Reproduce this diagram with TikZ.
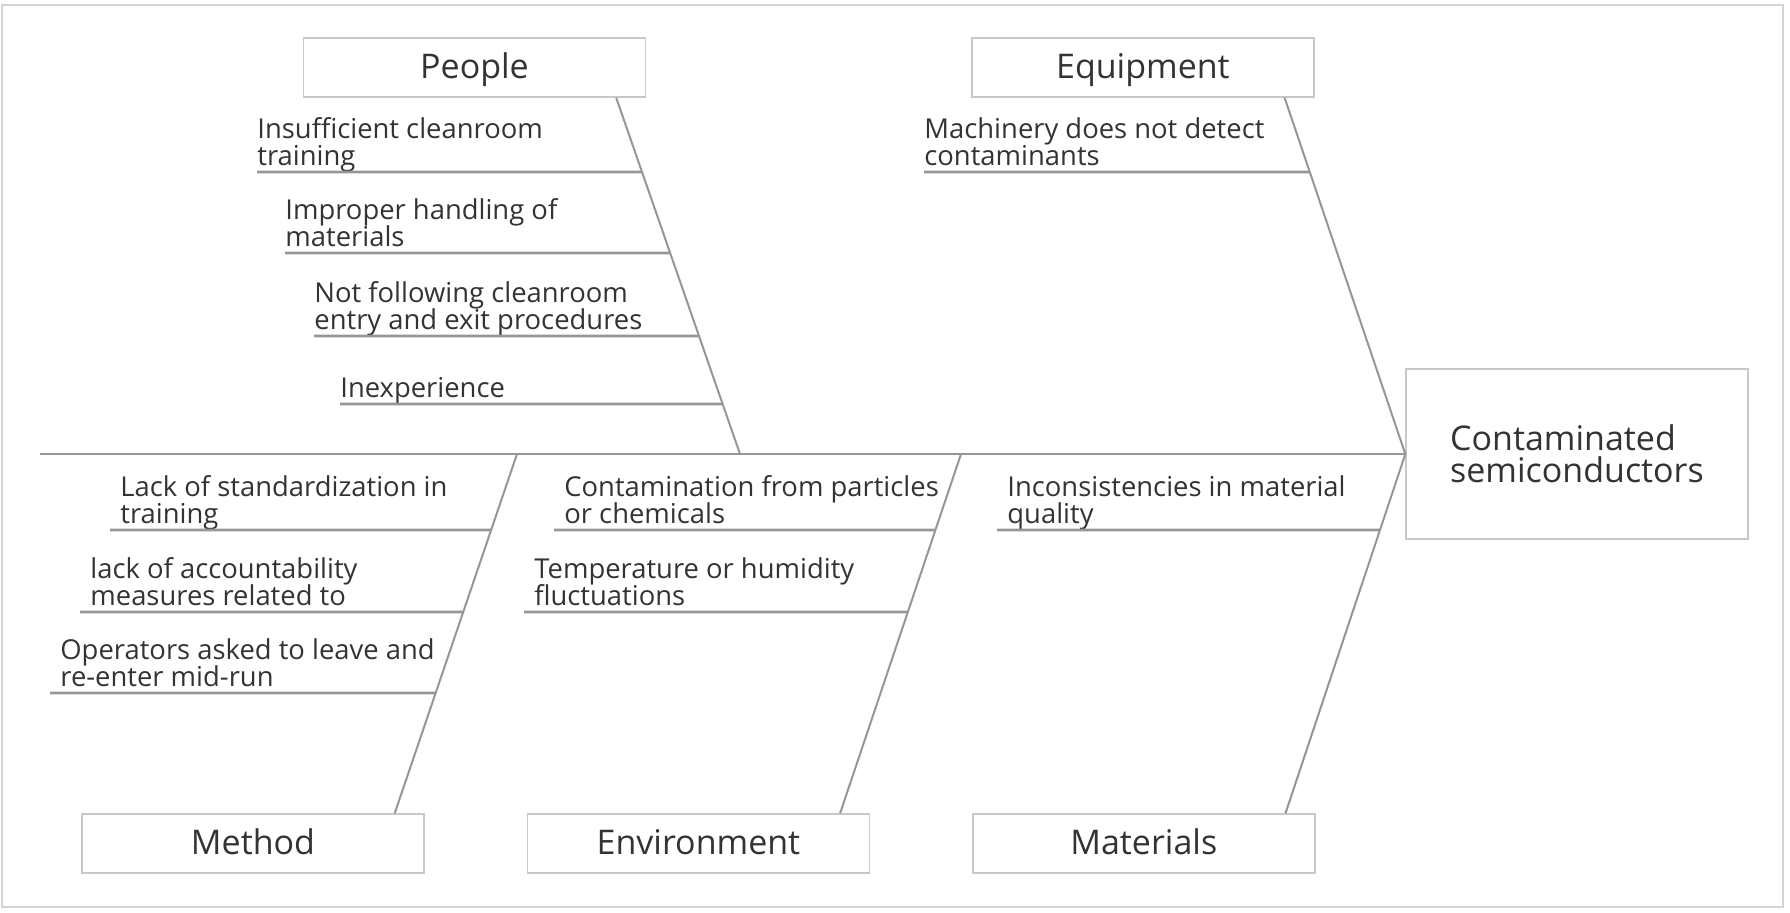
\documentclass[tikz,border=0pt]{standalone}
\usepackage{fontspec}
\setmainfont{Open Sans}
\usepackage{xcolor}
\usepackage{tikz}
\usetikzlibrary{positioning}
\definecolor{ink}{RGB}{51, 51, 51}
\definecolor{bonegray}{RGB}{150, 150, 150}
\definecolor{boxgray}{RGB}{200, 200, 200}
\definecolor{framegray}{RGB}{212, 212, 212}

\begin{document}
\begin{tikzpicture}[
    x=0.5pt, y=-0.5pt,
    category/.style={rectangle, draw=boxgray, line width=0.7pt, minimum width=171pt,
        minimum height=29.5pt, inner sep=0pt, text height=1.05em, text depth=0pt,
        font=\fontsize{17}{20}\selectfont, text=ink},
    effect/.style={rectangle, draw=boxgray, line width=0.7pt, minimum width=171pt,
        minimum height=85pt, align=left, font=\fontsize{17}{16}\selectfont, text=ink},
    cause/.style={anchor=south west, inner xsep=0pt, inner ysep=3pt, text depth=0pt,
        align=left, font=\fontsize{13.7}{13.8}\selectfont, text=ink},
    lowcause/.style={cause, inner xsep=5pt},
    bone/.style={draw=bonegray, line width=1pt},
    twig/.style={draw=bonegray, line width=1.3pt}
]
\useasboundingbox (0,0) rectangle (1790,912);
\draw[framegray, line width=0.8pt] (2,5) rectangle (1783,907);

% Effect and spine
\node[effect] (effect) at (1577,454) {Contaminated\\semiconductors};
\coordinate (tail) at (40,454);
\draw[twig] (tail) -- (effect.west);

% Category boxes
\node[category] (people) at (474.5,67.5) {People};
\node[category, right=162.5pt of people] (equipment) {Equipment};
\node[category] (method) at (253,843.5) {Method};
\node[category, right=51pt of method] (environment) {Environment};
\node[category, right=51pt of environment] (materials) {Materials};

% Main bones
\coordinate (ptop) at ([xshift=-15pt]people.south east);
\coordinate (qtop) at ([xshift=-15pt]equipment.south east);
\coordinate (mtop) at ([xshift=-15pt]method.north east);
\coordinate (etop) at ([xshift=-15pt]environment.north east);
\coordinate (ttop) at ([xshift=-15pt]materials.north east);
\coordinate (pjoin) at (740,454);
\coordinate (mjoin) at (517,454);
\coordinate (ejoin) at (961,454);

\draw[bone] (ptop) -- (pjoin);
\draw[bone] (qtop) -- (effect.west);
\draw[bone] (mtop) -- (mjoin);
\draw[bone] (etop) -- (ejoin);
\draw[bone] (ttop) -- (effect.west);

% People
\node[cause] (p1) at (257,172) {Insufficient cleanroom\\training};
\node[cause] (p2) at (285,253) {Improper handling of\\materials};
\node[cause] (p3) at (314,336) {Not following cleanroom\\entry and exit procedures};
\node[cause] (p4) at (340,404) {Inexperience};
\draw[twig] (p1.south west) -- (intersection of p1.south west--p1.south east and ptop--pjoin);
\draw[twig] (p2.south west) -- (intersection of p2.south west--p2.south east and ptop--pjoin);
\draw[twig] (p3.south west) -- (intersection of p3.south west--p3.south east and ptop--pjoin);
\draw[twig] (p4.south west) -- (intersection of p4.south west--p4.south east and ptop--pjoin);

% Equipment
\node[cause] (q1) at (924,172) {Machinery does not detect\\contaminants};
\draw[twig] (q1.south west) -- (intersection of q1.south west--q1.south east and qtop--effect.west);

% Method
\node[lowcause] (m1) at (110,530) {Lack of standardization in\\training};
\node[lowcause] (m2) at (80,612) {lack of accountability\\measures related to};
\node[lowcause] (m3) at (50,693) {Operators asked to leave and\\re-enter mid-run};
\draw[twig] (m1.south west) -- (intersection of m1.south west--m1.south east and mtop--mjoin);
\draw[twig] (m2.south west) -- (intersection of m2.south west--m2.south east and mtop--mjoin);
\draw[twig] (m3.south west) -- (intersection of m3.south west--m3.south east and mtop--mjoin);

% Environment
\node[lowcause] (e1) at (554,530) {Contamination from particles\\or chemicals};
\node[lowcause] (e2) at (524,612) {Temperature or humidity\\fluctuations};
\draw[twig] (e1.south west) -- (intersection of e1.south west--e1.south east and etop--ejoin);
\draw[twig] (e2.south west) -- (intersection of e2.south west--e2.south east and etop--ejoin);

% Materials
\node[lowcause] (t1) at (997,530) {Inconsistencies in material\\quality};
\draw[twig] (t1.south west) -- (intersection of t1.south west--t1.south east and ttop--effect.west);

\end{tikzpicture}
\end{document}
